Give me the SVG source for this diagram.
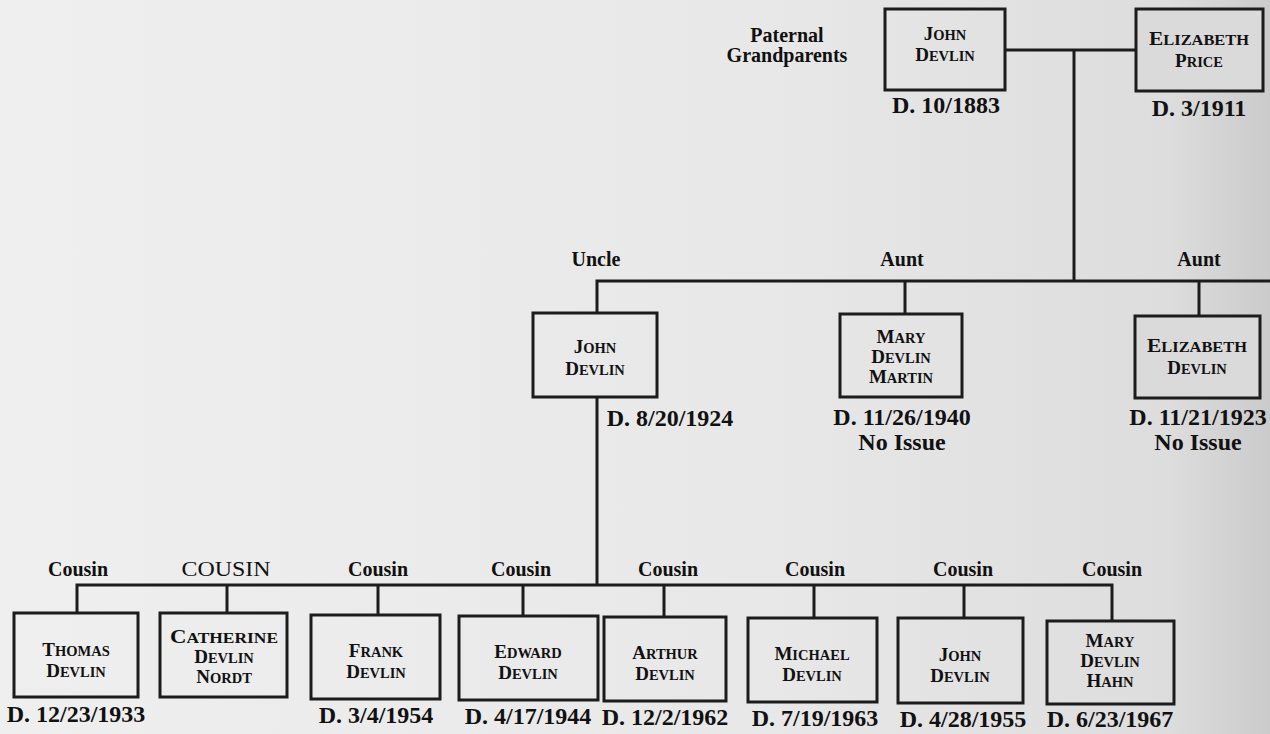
<svg xmlns="http://www.w3.org/2000/svg" width="1270" height="734" viewBox="0 0 1270 734">
<defs>
<linearGradient id="bg" x1="0" y1="0" x2="1" y2="0">
<stop offset="0" stop-color="#efefef"/>
<stop offset="0.6" stop-color="#e8e8e8"/>
<stop offset="0.92" stop-color="#dddddd"/>
<stop offset="1" stop-color="#cbcbcb"/>
</linearGradient>
<style>
.box{fill:none;stroke:#1c1c1c;stroke-width:3}
.ln{fill:none;stroke:#1c1c1c;stroke-width:3}
.nm{font-family:"Liberation Serif",serif;font-weight:bold;font-size:14.5px;fill:#111;text-anchor:middle}
.nm .b{font-size:19px}
.dt{font-family:"Liberation Serif",serif;font-weight:bold;font-size:24px;fill:#111;text-anchor:middle}
.lb{font-family:"Liberation Serif",serif;font-weight:bold;font-size:20px;fill:#111;text-anchor:middle}
.lc{font-family:"Liberation Serif",serif;font-size:21px;fill:#111;text-anchor:middle}
</style>
</defs>
<rect x="0" y="0" width="1270" height="734" fill="url(#bg)"/>

<g id="connectors">
<path class="ln" d="M1005,50 H1136"/>
<path class="ln" d="M1074,50 V281"/>
<path class="ln" d="M597,313 V281 H1270"/>
<path class="ln" d="M905,281 V314"/>
<path class="ln" d="M1199,281 V316"/>
<path class="ln" d="M597,397 V585"/>
<path class="ln" d="M77,613 V585 H1112 V621"/>
<path class="ln" d="M227,585 V613"/>
<path class="ln" d="M378,585 V615"/>
<path class="ln" d="M523,585 V616"/>
<path class="ln" d="M664,585 V617"/>
<path class="ln" d="M814,585 V618"/>
<path class="ln" d="M964,585 V618"/>
</g>

<g id="labels">
<text class="lb" x="787" y="42">Paternal</text>
<text class="lb" x="787" y="62">Grandparents</text>
<text class="lb" x="596" y="266">Uncle</text>
<text class="lb" x="902" y="266">Aunt</text>
<text class="lb" x="1199" y="266">Aunt</text>
<text class="lb" x="78" y="576">Cousin</text>
<text class="lc" x="226" y="576" textLength="89" lengthAdjust="spacingAndGlyphs">COUSIN</text>
<text class="lb" x="378" y="576">Cousin</text>
<text class="lb" x="521" y="576">Cousin</text>
<text class="lb" x="668" y="576">Cousin</text>
<text class="lb" x="815" y="576">Cousin</text>
<text class="lb" x="963" y="576">Cousin</text>
<text class="lb" x="1112" y="576">Cousin</text>
</g>

<g id="gp-john-devlin">
<rect class="box" x="885" y="9" width="120" height="81"/>
<text class="nm" x="945" y="40"><tspan class="b">J</tspan>OHN</text>
<text class="nm" x="945" y="61"><tspan class="b">D</tspan>EVLIN</text>
<text class="dt" x="946" y="113">D. 10/1883</text>
</g>

<g id="gp-elizabeth-price">
<rect class="box" x="1136" y="9" width="127" height="82" style="fill:#dadada"/>
<text class="nm" x="1199" y="45" textLength="100" lengthAdjust="spacingAndGlyphs"><tspan class="b">E</tspan>LIZABETH</text>
<text class="nm" x="1199" y="67"><tspan class="b">P</tspan>RICE</text>
<text class="dt" x="1199" y="116">D. 3/1911</text>
</g>

<g id="uncle-john-devlin">
<rect class="box" x="533" y="313" width="124" height="84"/>
<text class="nm" x="595" y="353"><tspan class="b">J</tspan>OHN</text>
<text class="nm" x="595" y="375"><tspan class="b">D</tspan>EVLIN</text>
<text class="dt" x="670" y="426">D. 8/20/1924</text>
</g>

<g id="aunt-mary-devlin-martin">
<rect class="box" x="840" y="314" width="122" height="83"/>
<text class="nm" x="901" y="343"><tspan class="b">M</tspan>ARY</text>
<text class="nm" x="901" y="363"><tspan class="b">D</tspan>EVLIN</text>
<text class="nm" x="901" y="383"><tspan class="b">M</tspan>ARTIN</text>
<text class="dt" x="902" y="425">D. 11/26/1940</text>
<text class="dt" x="902" y="450">No Issue</text>
</g>

<g id="aunt-elizabeth-devlin">
<rect class="box" x="1135" y="316" width="125" height="82" style="fill:#dadada"/>
<text class="nm" x="1197" y="352" textLength="100" lengthAdjust="spacingAndGlyphs"><tspan class="b">E</tspan>LIZABETH</text>
<text class="nm" x="1197" y="374"><tspan class="b">D</tspan>EVLIN</text>
<text class="dt" x="1198" y="425">D. 11/21/1923</text>
<text class="dt" x="1198" y="450">No Issue</text>
</g>

<g id="cousin-thomas-devlin">
<rect class="box" x="14" y="613" width="124" height="84"/>
<text class="nm" x="76" y="656"><tspan class="b">T</tspan>HOMAS</text>
<text class="nm" x="76" y="677"><tspan class="b">D</tspan>EVLIN</text>
<text class="dt" x="76" y="722">D. 12/23/1933</text>
</g>

<g id="cousin-catherine-devlin-nordt">
<rect class="box" x="160" y="613" width="127" height="84"/>
<text class="nm" x="224" y="643" textLength="108" lengthAdjust="spacingAndGlyphs"><tspan class="b">C</tspan>ATHERINE</text>
<text class="nm" x="224" y="663"><tspan class="b">D</tspan>EVLIN</text>
<text class="nm" x="224" y="683"><tspan class="b">N</tspan>ORDT</text>
</g>

<g id="cousin-frank-devlin">
<rect class="box" x="311" y="615" width="129" height="84"/>
<text class="nm" x="376" y="657"><tspan class="b">F</tspan>RANK</text>
<text class="nm" x="376" y="678"><tspan class="b">D</tspan>EVLIN</text>
<text class="dt" x="376" y="723">D. 3/4/1954</text>
</g>

<g id="cousin-edward-devlin">
<rect class="box" x="459" y="616" width="139" height="84"/>
<text class="nm" x="528" y="658"><tspan class="b">E</tspan>DWARD</text>
<text class="nm" x="528" y="679"><tspan class="b">D</tspan>EVLIN</text>
<text class="dt" x="528" y="724">D. 4/17/1944</text>
</g>

<g id="cousin-arthur-devlin">
<rect class="box" x="604" y="617" width="122" height="84"/>
<text class="nm" x="665" y="659"><tspan class="b">A</tspan>RTHUR</text>
<text class="nm" x="665" y="680"><tspan class="b">D</tspan>EVLIN</text>
<text class="dt" x="665" y="725">D. 12/2/1962</text>
</g>

<g id="cousin-michael-devlin">
<rect class="box" x="748" y="618" width="129" height="84"/>
<text class="nm" x="812" y="660"><tspan class="b">M</tspan>ICHAEL</text>
<text class="nm" x="812" y="681"><tspan class="b">D</tspan>EVLIN</text>
<text class="dt" x="815" y="726">D. 7/19/1963</text>
</g>

<g id="cousin-john-devlin">
<rect class="box" x="898" y="618" width="125" height="85"/>
<text class="nm" x="960" y="661"><tspan class="b">J</tspan>OHN</text>
<text class="nm" x="960" y="682"><tspan class="b">D</tspan>EVLIN</text>
<text class="dt" x="963" y="727">D. 4/28/1955</text>
</g>

<g id="cousin-mary-devlin-hahn">
<rect class="box" x="1047" y="621" width="127" height="83"/>
<text class="nm" x="1110" y="647"><tspan class="b">M</tspan>ARY</text>
<text class="nm" x="1110" y="667"><tspan class="b">D</tspan>EVLIN</text>
<text class="nm" x="1110" y="687"><tspan class="b">H</tspan>AHN</text>
<text class="dt" x="1110" y="727">D. 6/23/1967</text>
</g>
</svg>
